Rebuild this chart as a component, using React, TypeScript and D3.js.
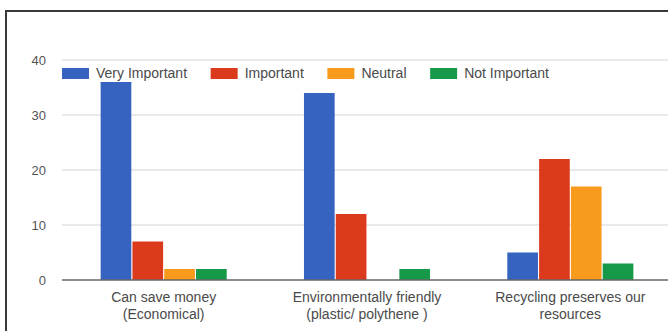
import React, { useEffect, useRef } from "react";
import * as d3 from "d3";

// Survey responses per statement
const categories = [
  ["Can save money", "(Economical)"],
  ["Environmentally friendly", "(plastic/ polythene )"],
  ["Recycling preserves our", "resources"],
];
const seriesNames = ["Very Important", "Important", "Neutral", "Not Important"];
const veryImportant = [36, 34, 5];
const important = [7, 12, 22];
const neutral = [2, 0, 17];
const notImportant = [2, 2, 3];
const yTicks = [0, 10, 20, 30, 40];
const colors = ["#3763c0", "#db3a1d", "#f89a1c", "#17994a"];

const WIDTH = 668;
const HEIGHT = 331;
const FONT = "'Liberation Sans', Arial, sans-serif";

export default function App() {
  const ref = useRef<SVGSVGElement>(null);

  useEffect(() => {
    const svg = d3.select(ref.current);
    svg.selectAll("*").remove();

    const values = [veryImportant, important, neutral, notImportant];
    const keys = categories.map((c) => c.join(" "));

    const left = 62;
    const right = 672;
    const y = d3.scaleLinear().domain([0, 40]).range([280, 60]);
    const x0 = d3.scaleBand<string>().domain(keys).range([left, right]).paddingInner(0.38).paddingOuter(0.19);
    const x1 = d3.scaleBand<string>().domain(seriesNames).range([0, x0.bandwidth()]).paddingInner(0.035);

    // frame
    svg.append("path")
      .attr("d", `M6,${HEIGHT} V11 H${WIDTH}`)
      .attr("fill", "none")
      .attr("stroke", "#3a3a3a")
      .attr("stroke-width", 2);

    // gridlines
    svg.append("g")
      .selectAll("line")
      .data(yTicks.filter((t) => t !== 0))
      .join("line")
      .attr("x1", left)
      .attr("x2", right)
      .attr("y1", (d) => y(d))
      .attr("y2", (d) => y(d))
      .attr("stroke", "#d4d4d4")
      .attr("stroke-width", 1);

    // y labels
    svg.append("g")
      .selectAll("text")
      .data(yTicks)
      .join("text")
      .attr("x", 46)
      .attr("y", (d) => y(d))
      .attr("text-anchor", "end")
      .attr("dominant-baseline", "central")
      .attr("font-family", FONT)
      .attr("font-size", 13)
      .attr("fill", "#555")
      .text((d) => String(d));

    // bars
    const g = svg.append("g");
    keys.forEach((k, ci) => {
      seriesNames.forEach((s, si) => {
        const v = values[si][ci];
        if (v <= 0) return;
        g.append("rect")
          .attr("x", (x0(k) as number) + (x1(s) as number))
          .attr("y", y(v))
          .attr("width", x1.bandwidth())
          .attr("height", y(0) - y(v))
          .attr("fill", colors[si]);
      });
    });

    // baseline
    svg.append("line")
      .attr("x1", left)
      .attr("x2", right)
      .attr("y1", y(0))
      .attr("y2", y(0))
      .attr("stroke", "#666")
      .attr("stroke-width", 1.5);

    // category labels
    const xl = svg.append("g");
    keys.forEach((k, ci) => {
      const cx = (x0(k) as number) + x0.bandwidth() / 2;
      categories[ci].forEach((line, li) => {
        xl.append("text")
          .attr("x", cx)
          .attr("y", 302 + li * 17)
          .attr("text-anchor", "middle")
          .attr("font-family", FONT)
          .attr("font-size", 14)
          .attr("fill", "#4a4a4a")
          .text(line);
      });
    });

    // legend
    const lg = svg.append("g");
    let lx = left;
    seriesNames.forEach((s, si) => {
      lg.append("rect")
        .attr("x", lx)
        .attr("y", 68)
        .attr("width", 27)
        .attr("height", 11)
        .attr("fill", colors[si]);
      const t = lg.append("text")
        .attr("x", lx + 34)
        .attr("y", 78)
        .attr("font-family", FONT)
        .attr("font-size", 14)
        .attr("fill", "#4a4a4a")
        .text(s);
      const w = (t.node() as SVGTextElement).getComputedTextLength();
      lx += 34 + w + 23.6;
    });
  }, []);

  return (
    <svg
      ref={ref}
      width={WIDTH}
      height={HEIGHT}
      style={{ position: "absolute", left: 0, top: 0, background: "#fff" }}
    />
  );
}
